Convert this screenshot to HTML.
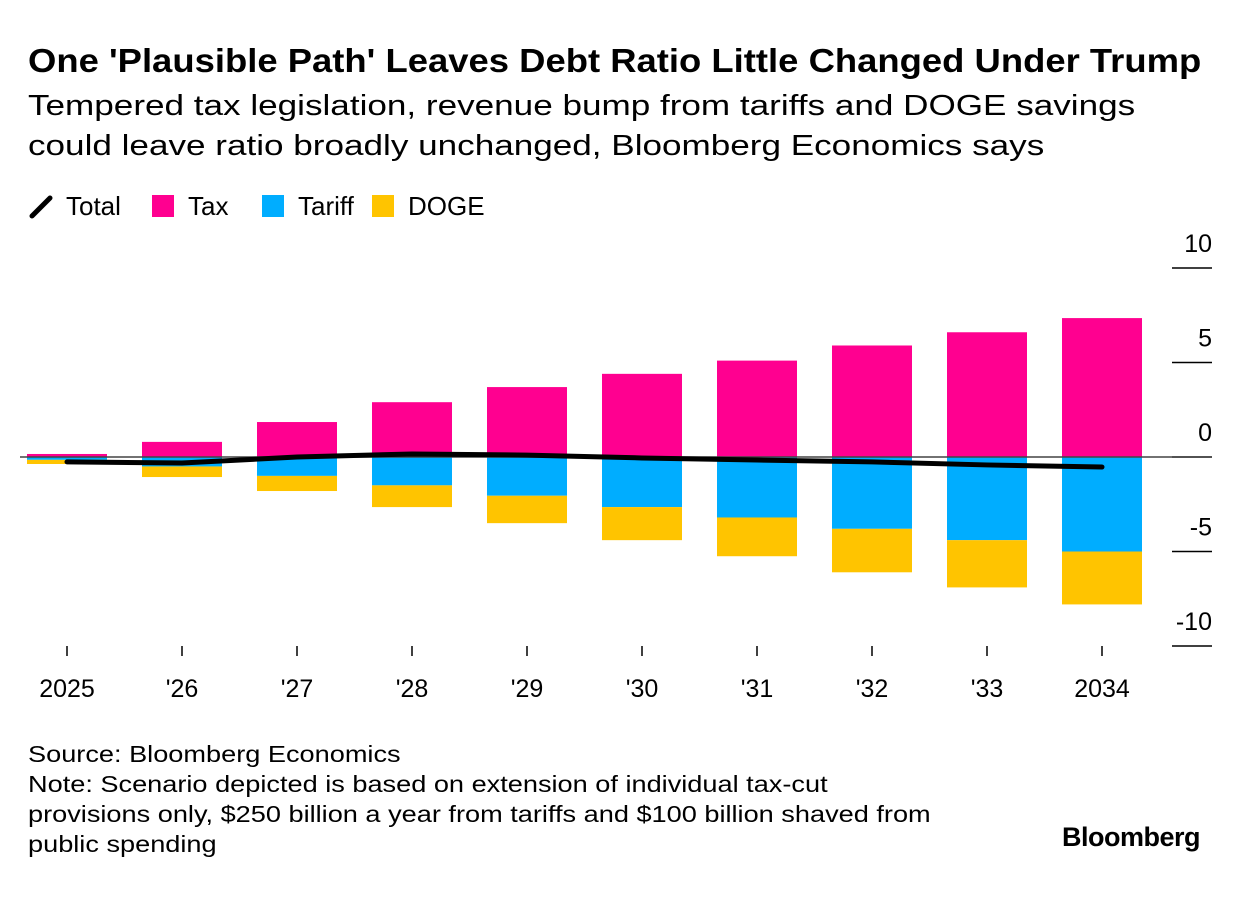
<!DOCTYPE html>
<html><head><meta charset="utf-8"><style>
body{margin:0;background:#fff;font-family:"Liberation Sans",sans-serif;color:#000;}
#wrap{position:relative;width:1240px;height:900px;overflow:hidden;}
.t{position:absolute;left:28px;transform-origin:0 0;white-space:nowrap;}
</style></head><body>
<div id="wrap">
<div class="t" style="top:42px;font-size:33px;font-weight:bold;transform:scaleX(1.104);">One 'Plausible Path' Leaves Debt Ratio Little Changed Under Trump</div>
<div class="t" style="top:86px;font-size:29px;line-height:40px;transform:scaleX(1.21);">Tempered tax legislation, revenue bump from tariffs and DOGE savings<br>could leave ratio broadly unchanged, Bloomberg Economics says</div>
<div class="t" style="top:739px;font-size:23px;line-height:30px;transform:scaleX(1.18);">Source: Bloomberg Economics<br>Note: Scenario depicted is based on extension of individual tax-cut<br>provisions only, $250 billion a year from tariffs and $100 billion shaved from<br>public spending</div>
<div style="position:absolute;right:40px;top:822px;font-size:27px;font-weight:bold;letter-spacing:-0.5px;">Bloomberg</div>
<svg id="chart" width="1240" height="900" style="position:absolute;left:0;top:0"></svg>
</div>
<script>
const categories=["2025","'26","'27","'28","'29","'30","'31","'32","'33","2034"];
const taxValues=[0.16,0.8,1.85,2.9,3.7,4.4,5.1,5.9,6.6,7.35];
const tariffValues=[-0.15,-0.5,-1.0,-1.5,-2.05,-2.65,-3.2,-3.8,-4.4,-5.0];
const dogeValues=[-0.22,-0.56,-0.8,-1.15,-1.45,-1.75,-2.05,-2.3,-2.5,-2.8];
const totalValues=[-0.26,-0.32,0,0.16,0.1,-0.05,-0.16,-0.26,-0.42,-0.53];
const yTicks=[10,5,0,-5,-10];
const NS="http://www.w3.org/2000/svg";
const svg=document.getElementById('chart');
const y=v=>457-v*18.9;
const x=i=>67+i*115;
const bw=80;
function mk(tag,attrs){const e=document.createElementNS(NS,tag);for(const k in attrs)e.setAttribute(k,attrs[k]);svg.appendChild(e);return e;}
const legendNames=["Total","Tax","Tariff","DOGE"];
const legendColors=[null,"#ff0090","#00adff","#ffc400"];
const lpos=[30,152,262,372];
legendNames.forEach((n,i)=>{
  const lx=lpos[i];
  let m;
  if(legendColors[i]){m=mk('rect',{x:lx,y:195,width:22,height:22,fill:legendColors[i]});}
  else{m=mk('line',{x1:lx+2,y1:216,x2:lx+20,y2:198,stroke:'#000','stroke-width':5,'stroke-linecap':'round'});}
  
  
  const t=mk('text',{x:lx+36,y:215,'font-size':26});
  t.textContent=n;
  
  
});
yTicks.forEach(v=>{
  const l=mk('line',{x1:1172,x2:1212,y1:y(v),y2:y(v),stroke:'#000','stroke-width':1.5});
  
  
  const t=mk('text',{x:1212,y:y(v)-16,'font-size':25,'text-anchor':'end'});
  t.textContent=v;
  
  
});
categories.forEach((c,i)=>{
  const b1=mk('rect',{x:x(i)-bw/2,y:y(taxValues[i]),width:bw,height:y(0)-y(taxValues[i]),fill:'#ff0090'});
  
  
  const b2=mk('rect',{x:x(i)-bw/2,y:y(0),width:bw,height:y(tariffValues[i])-y(0),fill:'#00adff'});
  
  
  const b3=mk('rect',{x:x(i)-bw/2,y:y(tariffValues[i]),width:bw,height:y(tariffValues[i]+dogeValues[i])-y(tariffValues[i]),fill:'#ffc400'});
  
  
  const tk=mk('line',{x1:x(i),x2:x(i),y1:646,y2:656,stroke:'#000','stroke-width':1.5});
  
  
  const t=mk('text',{x:x(i),y:697,'font-size':25,'text-anchor':'middle'});
  t.textContent=c;
  
  
});
const zl=mk('line',{x1:20,x2:1212,y1:y(0),y2:y(0),stroke:'#444','stroke-width':1.5});


const pl=mk('polyline',{points:totalValues.map((v,i)=>x(i)+','+y(v)).join(' '),fill:'none',stroke:'#000','stroke-width':5,'stroke-linecap':'round','stroke-linejoin':'round'});


</script>
</body></html>
